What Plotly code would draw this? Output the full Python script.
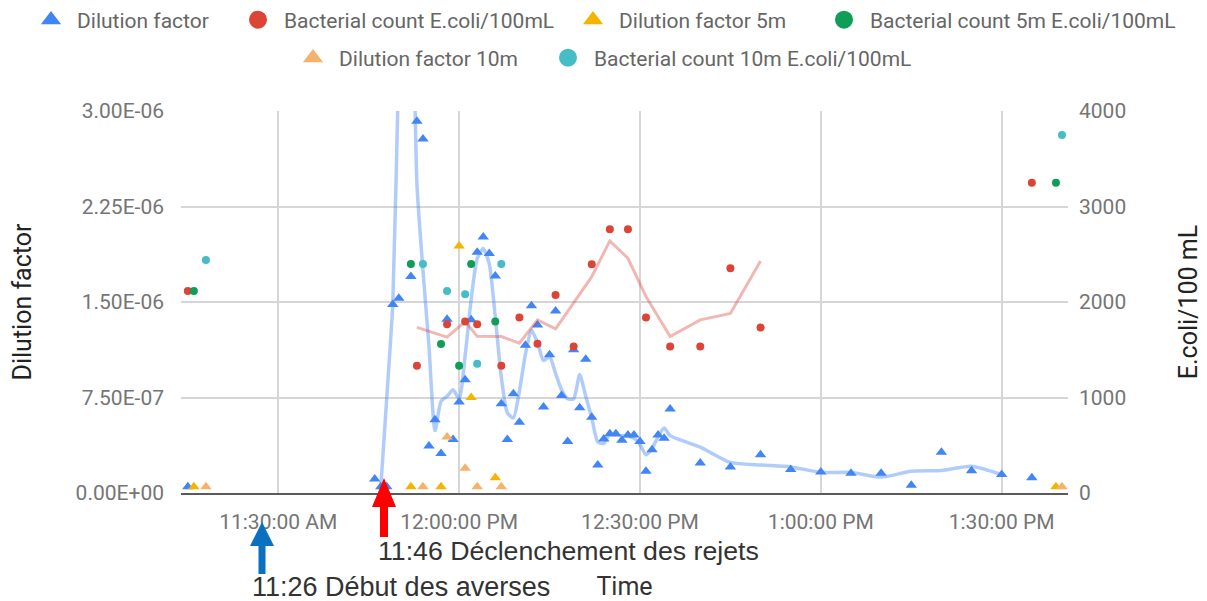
import plotly.graph_objects as go
import pandas as pd

DAY = "2019-06-18 "

# ---------------- data ----------------
dil_t = ["11:15", "11:46", "11:47", "11:48", "11:49", "11:50", "11:52", "11:53", "11:54", "11:55",
         "11:56", "11:57", "11:58", "11:59", "12:00", "12:01", "12:02", "12:03", "12:04", "12:05",
         "12:06", "12:07", "12:08", "12:09", "12:10", "12:11", "12:12", "12:13", "12:14", "12:15",
         "12:16", "12:17", "12:18", "12:19", "12:20", "12:21", "12:22", "12:23", "12:24", "12:25",
         "12:26", "12:27", "12:28", "12:29", "12:30", "12:31", "12:32", "12:33", "12:34", "12:35",
         "12:40", "12:45", "12:50", "12:55", "13:00", "13:05", "13:10", "13:15", "13:20", "13:25",
         "13:30", "13:35"]
# dilution factor, in units of 1E-07
dil_e7 = [0.5, 1.1, 0.5, 0.5, 14.8, 15.3, 17.0, 29.2, 27.8, 3.7,
          5.75, 3.1, 13.65, 4.2, 7.15, 8.9, 13.6, 18.9, 20.1, 18.8,
          17.05, 7.0, 4.2, 7.8, 5.55, 11.6, 14.7, 13.2, 6.75, 10.85,
          14.3, 7.65, 4.05, 11.25, 6.7, 10.5, 5.95, 2.2, 4.25, 4.65,
          4.65, 4.15, 4.55, 4.55, 4.05, 1.7, 3.4, 4.55, 4.3, 6.6,
          2.35, 2.05, 3.0, 1.85, 1.65, 1.55, 1.55, 0.6, 3.2, 1.75,
          1.45, 1.2]

# trend line drawn through the dilution factor, units 1E-07
dil_trend_t = ["11:47", "11:48", "11:49", "11:50", "11:51", "11:52", "11:53", "11:54", "11:55", "11:56",
               "11:57", "11:58", "11:59", "12:00", "12:01", "12:02", "12:03", "12:04", "12:05", "12:06",
               "12:07", "12:08", "12:09", "12:10", "12:11", "12:12", "12:13", "12:14", "12:15", "12:16",
               "12:17", "12:18", "12:19", "12:20", "12:21", "12:22", "12:23", "12:24", "12:25", "12:26",
               "12:27", "12:28", "12:29", "12:30", "12:31", "12:32", "12:33", "12:34", "12:35", "12:40",
               "12:45", "12:50", "12:55", "13:00", "13:05", "13:10", "13:15", "13:20", "13:25", "13:30"]
dil_trend_e7 = [0.4, 7.5, 14.9, 34.0, 52.0, 46.0, 24.3, 17.5, 11.5, 4.9,
                7.2, 7.6, 8.1, 7.4, 10.8, 15.2, 18.4, 19.2, 18.0, 13.8,
                9.1, 6.3, 5.9, 8.0, 10.9, 12.8, 11.8, 10.4, 10.7, 9.4,
                8.1, 7.4, 7.4, 9.3, 7.6, 5.9, 4.0, 3.9, 4.6, 4.55,
                4.5, 4.45, 4.3, 3.8, 3.0, 3.5, 4.4, 5.1, 4.5, 3.6,
                2.4, 2.2, 2.05, 1.62, 1.62, 1.25, 1.7, 1.77, 2.1, 1.44]

bac_t = ["11:15", "11:53", "11:58", "12:01", "12:03", "12:07", "12:10", "12:13", "12:16", "12:19",
         "12:22", "12:25", "12:28", "12:31", "12:35", "12:40", "12:45", "12:50", "13:35"]
bac_v = [2116, 1332, 1768, 1795, 1768, 1332, 1837, 1562, 2074, 1534,
         2395, 2761, 2761, 1837, 1534, 1534, 2353, 1732, 3249]

bac_trend_t = ["11:53", "11:58", "12:01", "12:03", "12:07", "12:10", "12:13", "12:16", "12:19",
               "12:22", "12:25", "12:28", "12:31", "12:35", "12:40", "12:45", "12:50"]
bac_trend_v = [1735, 1632, 1795, 1640, 1638, 1569, 1813, 1720, 1990,
               2265, 2640, 2458, 2056, 1638, 1813, 1880, 2430]

dil5_t = ["11:16", "11:52", "11:57", "12:00", "12:02", "12:06", "13:39"]
dil5_e7 = [0.5, 0.5, 0.5, 19.4, 7.5, 1.2, 0.5]
bac5_t = ["11:16", "11:52", "11:57", "12:00", "12:02", "12:06", "13:39"]
bac5_v = [2116, 2399, 1559, 1332, 2399, 1795, 3249]

dil10_t = ["11:18", "11:54", "11:58", "12:01", "12:03", "12:07", "13:40"]
dil10_e7 = [0.5, 0.5, 4.4, 1.95, 0.5, 0.5, 0.5]
bac10_t = ["11:18", "11:54", "11:58", "12:01", "12:03", "12:07", "13:40"]
bac10_v = [2440, 2399, 2116, 2082, 1353, 2399, 3748]

x_tick_t = ["11:30", "12:00", "12:30", "13:00", "13:30"]
x_tick_text = ["11:30:00 AM", "12:00:00 PM", "12:30:00 PM", "1:00:00 PM", "1:30:00 PM"]
y_tick_v = [0, 7.5e-7, 1.5e-6, 2.25e-6, 3.0e-6]
y_tick_text = ["0.00E+00", "7.50E-07", "1.50E-06", "2.25E-06", "3.00E-06"]
y2_tick_v = [0, 1000, 2000, 3000, 4000]
x_range_t = ["11:13:52", "13:41:00"]

# ---------------- helpers ----------------
def T(lst):
    return pd.to_datetime([DAY + s for s in lst])

def e7(lst):
    return [v * 1e-7 for v in lst]

OFF = 8                      # the page's body margin
W, H = 1207 - OFF, 601 - OFF
ML, MR, MT, MB = 173, 139, 103, 108
PW, PH = W - ML - MR, H - MT - MB

def px(x):                   # window pixel -> paper x
    return (x - OFF - ML) / PW

def py(y):                   # window pixel -> paper y
    return (H - MB - (y - OFF)) / PH

BLUE = "#4285F4"
RED = "#DB4437"
YELLOW = "#F4B400"
GREEN = "#0F9D58"
ORANGE = "#F6B26B"
CYAN = "#46BDC6"
FONT = "Roboto"

fig = go.Figure()

# trend lines
fig.add_trace(go.Scatter(x=T(dil_trend_t), y=e7(dil_trend_e7), mode="lines",
                         line=dict(color="rgba(66,133,244,0.42)", width=3.5, shape="spline", smoothing=0.6),
                         showlegend=False, hoverinfo="skip", yaxis="y"))
fig.add_trace(go.Scatter(x=T(bac_trend_t), y=bac_trend_v, mode="lines",
                         line=dict(color="rgba(219,68,55,0.38)", width=3),
                         showlegend=False, hoverinfo="skip", yaxis="y2"))

series = [
    ("Dilution factor", dil_t, e7(dil_e7), "y", BLUE, "triangle-up", 10),
    ("Bacterial count E.coli/100mL", bac_t, bac_v, "y2", RED, "circle", 8),
    ("Dilution factor 5m", dil5_t, e7(dil5_e7), "y", YELLOW, "triangle-up", 10),
    ("Bacterial count 5m E.coli/100mL", bac5_t, bac5_v, "y2", GREEN, "circle", 8),
    ("Dilution factor 10m", dil10_t, e7(dil10_e7), "y", ORANGE, "triangle-up", 10),
    ("Bacterial count 10m E.coli/100mL", bac10_t, bac10_v, "y2", CYAN, "circle", 8),
]
for name, tt, vv, ax, col, sym, sz in series:
    fig.add_trace(go.Scatter(x=T(tt), y=vv, mode="markers", name=name, yaxis=ax,
                             marker=dict(color=col, symbol=sym, size=sz),
                             cliponaxis=False, showlegend=False))

# legend entries (one legend per entry so they can be placed like the original)
# (window x where the entry's text starts, window y of the row)
leg_pos = [(77, 20), (284, 20), (619, 20), (870, 20), (339, 58), (594, 58)]
ITEMW = 42
legends = {}
for i, ((name, tt, vv, ax, col, sym, sz), (lx, ly)) in enumerate(zip(series, leg_pos)):
    key = "legend" if i == 0 else f"legend{i + 1}"
    fig.add_trace(go.Scatter(x=[None], y=[None], mode="markers", name=name, legend=key,
                             marker=dict(color=col, symbol=sym, size=16 if sym == "circle" else 14,
                                         line=dict(color=col, width=2)),
                             showlegend=True, yaxis=ax))
    legends[key] = dict(x=(lx - OFF - ITEMW - 10) / W, y=1 - (ly - OFF) / H,
                        xref="container", yref="container",
                        xanchor="left", yanchor="middle", orientation="h",
                        bgcolor="rgba(0,0,0,0)", itemwidth=ITEMW,
                        font=dict(family=FONT, size=21, color="#666666"))

grid = "#d6d6d6"
fig.update_layout(
    width=W, height=H,
    margin=dict(l=ML, r=MR, t=MT, b=MB, autoexpand=False),
    paper_bgcolor="white", plot_bgcolor="white",
    font=dict(family=FONT),
    **legends,
    xaxis=dict(type="date", range=list(T(x_range_t)), tickvals=list(T(x_tick_t)), ticktext=x_tick_text,
               showgrid=True, gridcolor=grid, gridwidth=2, zeroline=False,
               showline=True, linecolor="#5a5a5a", linewidth=2, ticks="",
               tickfont=dict(family=FONT, size=21, color="#757575"), ticklabelstandoff=9,
               title=dict(text="Time", font=dict(family=FONT, size=25, color="#333333"), standoff=44)),
    yaxis=dict(range=[0, 3.0e-6], tickvals=y_tick_v, ticktext=y_tick_text,
               showgrid=True, gridcolor=grid, gridwidth=2, zeroline=False, showline=False, ticks="",
               tickfont=dict(family=FONT, size=21, color="#757575"), ticklabelstandoff=16,
               title=dict(text="Dilution factor", font=dict(family=FONT, size=25, color="#222222"), standoff=40)),
    yaxis2=dict(range=[0, 4000], tickvals=y2_tick_v, overlaying="y", side="right",
                showgrid=False, zeroline=False, showline=False, ticks="",
                tickfont=dict(family=FONT, size=21, color="#757575"), ticklabelstandoff=10,
                title=dict(text="E.coli/100 mL", font=dict(family=FONT, size=25, color="#222222"), standoff=54)),
)

# arrows (drawn as filled shapes in paper coordinates)
def arrow_path(xc, y_tip, y_base, y_tail, head_w, shaft_w):
    pts = [(xc, y_tip), (xc + head_w / 2, y_base), (xc + shaft_w / 2, y_base), (xc + shaft_w / 2, y_tail),
           (xc - shaft_w / 2, y_tail), (xc - shaft_w / 2, y_base), (xc - head_w / 2, y_base)]
    return "M " + " L ".join(f"{px(a):.5f},{py(b):.5f}" for a, b in pts) + " Z"

fig.add_shape(type="path", xref="paper", yref="paper", path=arrow_path(262, 522, 546, 574, 24, 7),
              fillcolor="#0A70C0", line=dict(width=0), layer="above")
fig.add_shape(type="path", xref="paper", yref="paper", path=arrow_path(384, 478, 507, 537, 24, 8),
              fillcolor="#FF0000", line=dict(width=0), layer="above")

fig.add_annotation(text="11:46 Déclenchement des rejets", xref="paper", yref="paper",
                   x=px(376), y=py(551), xanchor="left", yanchor="middle", showarrow=False,
                   font=dict(family="Liberation Sans", size=26.7, color="#333333"))
fig.add_annotation(text="11:26 Début des averses", xref="paper", yref="paper",
                   x=px(250), y=py(587), xanchor="left", yanchor="middle", showarrow=False,
                   font=dict(family="Liberation Sans", size=27, color="#333333"))

fig.write_html("out.html")
